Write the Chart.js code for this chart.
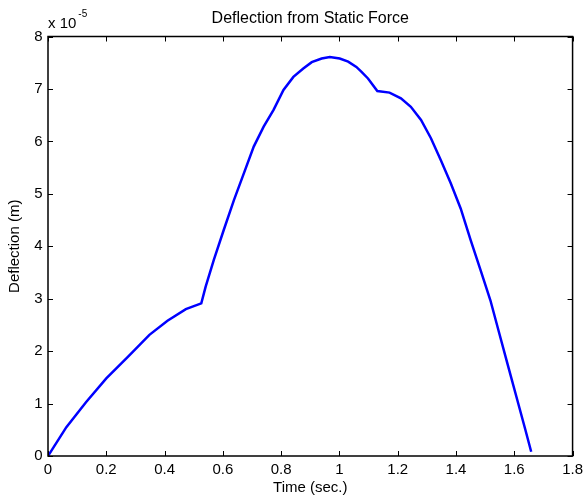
<!DOCTYPE html>
<html>
<head>
<meta charset="utf-8">
<title>Deflection from Static Force</title>
<script src="https://cdn.jsdelivr.net/npm/chart.js@4.4.0/dist/chart.umd.min.js"></script>
<style>
  html, body { margin: 0; padding: 0; background: #ffffff; }
  #wrap { width: 588px; height: 497px; }
</style>
</head>
<body>
<div id="wrap"><canvas id="migrafica" width="588" height="497"></canvas></div>
<script>
// time in seconds, deflection in units of 1e-5 m
const times = [0, 0.063, 0.131, 0.2, 0.274, 0.348, 0.41, 0.473, 0.526, 0.541,
  0.569, 0.603, 0.638, 0.672, 0.706, 0.74, 0.774, 0.808, 0.842, 0.876,
  0.905, 0.939, 0.967, 1.001, 1.03, 1.058, 1.075, 1.098, 1.13, 1.172,
  1.211, 1.245, 1.28, 1.314, 1.348, 1.382, 1.416, 1.45, 1.484, 1.518,
  1.547, 1.576, 1.618, 1.638, 1.658];
const deflection = [0, 0.55, 1.03, 1.48, 1.89, 2.31, 2.58, 2.80, 2.91, 3.23,
  3.74, 4.31, 4.88, 5.39, 5.90, 6.28, 6.60, 6.98, 7.23, 7.39,
  7.51, 7.58, 7.61, 7.58, 7.52, 7.42, 7.33, 7.20, 6.96, 6.93,
  6.82, 6.66, 6.41, 6.06, 5.64, 5.20, 4.72, 4.12, 3.55, 2.97,
  2.37, 1.77, 0.91, 0.50, 0.08];
const xTicks = [0, 0.2, 0.4, 0.6, 0.8, 1, 1.2, 1.4, 1.6, 1.8];
const yTicks = [0, 1, 2, 3, 4, 5, 6, 7, 8];
const exponentText = "x 10";
const exponentPower = "-5";

const FONT = "Helvetica, Arial, 'Liberation Sans', sans-serif";

// matlab style box with inward ticks on all four sides
const matlabAxes = {
  id: "matlabAxes",
  afterDatasetsDraw(chart) {
    const { ctx, chartArea: a, scales } = chart;
    const len = 5;
    ctx.save();
    ctx.strokeStyle = "#000";
    ctx.lineWidth = 1;
    ctx.beginPath();
    scales.x.ticks.forEach((t) => {
      const px = Math.round(scales.x.getPixelForValue(t.value)) + 0.5;
      ctx.moveTo(px, a.bottom); ctx.lineTo(px, a.bottom - len);
      ctx.moveTo(px, a.top); ctx.lineTo(px, a.top + len);
    });
    scales.y.ticks.forEach((t) => {
      const py = Math.round(scales.y.getPixelForValue(t.value)) + 0.5;
      ctx.moveTo(a.left, py); ctx.lineTo(a.left + len, py);
      ctx.moveTo(a.right, py); ctx.lineTo(a.right - len, py);
    });
    ctx.stroke();
    ctx.lineWidth = 1.5;
    ctx.strokeRect(a.left, a.top, a.right - a.left, a.bottom - a.top);

    // exponent label
    ctx.fillStyle = "#000";
    ctx.textBaseline = "alphabetic";
    ctx.textAlign = "left";
    ctx.font = "15px " + FONT;
    ctx.fillText(exponentText, a.left, 28);
    const w = ctx.measureText(exponentText).width;
    ctx.font = "10px " + FONT;
    ctx.fillText(exponentPower, a.left + w + 2, 17);
    ctx.restore();
  }
};

const config = {
  type: "line",
  data: {
    datasets: [
      {
        data: times.map((t, i) => ({ x: t, y: deflection[i] })),
        borderColor: "#0000ff",
        borderWidth: 2.5,
        pointRadius: 0,
        tension: 0,
        fill: false
      }
    ]
  },
  options: {
    responsive: false,
    animation: false,
    devicePixelRatio: 1,
    layout: { padding: { left: 0, right: 12, top: 0, bottom: 0 } },
    plugins: {
      legend: { display: false },
      tooltip: { enabled: false },
      title: {
        display: true,
        fullSize: false,
        text: "Deflection from Static Force",
        color: "#000",
        font: { family: FONT, size: 16, weight: "normal" },
        padding: { top: 8.7, bottom: 8.6 }
      }
    },
    scales: {
      x: {
        type: "linear",
        min: 0,
        max: 1.8,
        afterFit: (s) => { s.height = 41; },
        afterBuildTicks: (s) => { s.ticks = xTicks.map((v) => ({ value: v })); },
        grid: { display: false, drawTicks: false },
        border: { display: false },
        ticks: {
          color: "#000",
          padding: 5,
          maxRotation: 0,
          font: { family: FONT, size: 15 },
          callback: (v) => String(Number(v.toFixed(1)))
        },
        title: {
          display: true,
          text: "Time (sec.)",
          color: "#000",
          font: { family: FONT, size: 15 },
          padding: { top: 0, bottom: 0 }
        }
      },
      y: {
        type: "linear",
        min: 0,
        max: 8,
        afterFit: (s) => { s.width = 48; },
        afterBuildTicks: (s) => { s.ticks = yTicks.map((v) => ({ value: v })); },
        grid: { display: false, drawTicks: false },
        border: { display: false },
        ticks: {
          color: "#000",
          padding: 5.5,
          font: { family: FONT, size: 15 },
          callback: (v) => String(v)
        },
        title: {
          display: true,
          text: "Deflection (m)",
          color: "#000",
          font: { family: FONT, size: 15 },
          padding: { top: 6, bottom: 0 }
        }
      }
    }
  },
  plugins: [matlabAxes]
};

const ctx = document.getElementById("migrafica").getContext("2d");
window.myChart = new Chart(ctx, config);
</script>
</body>
</html>
